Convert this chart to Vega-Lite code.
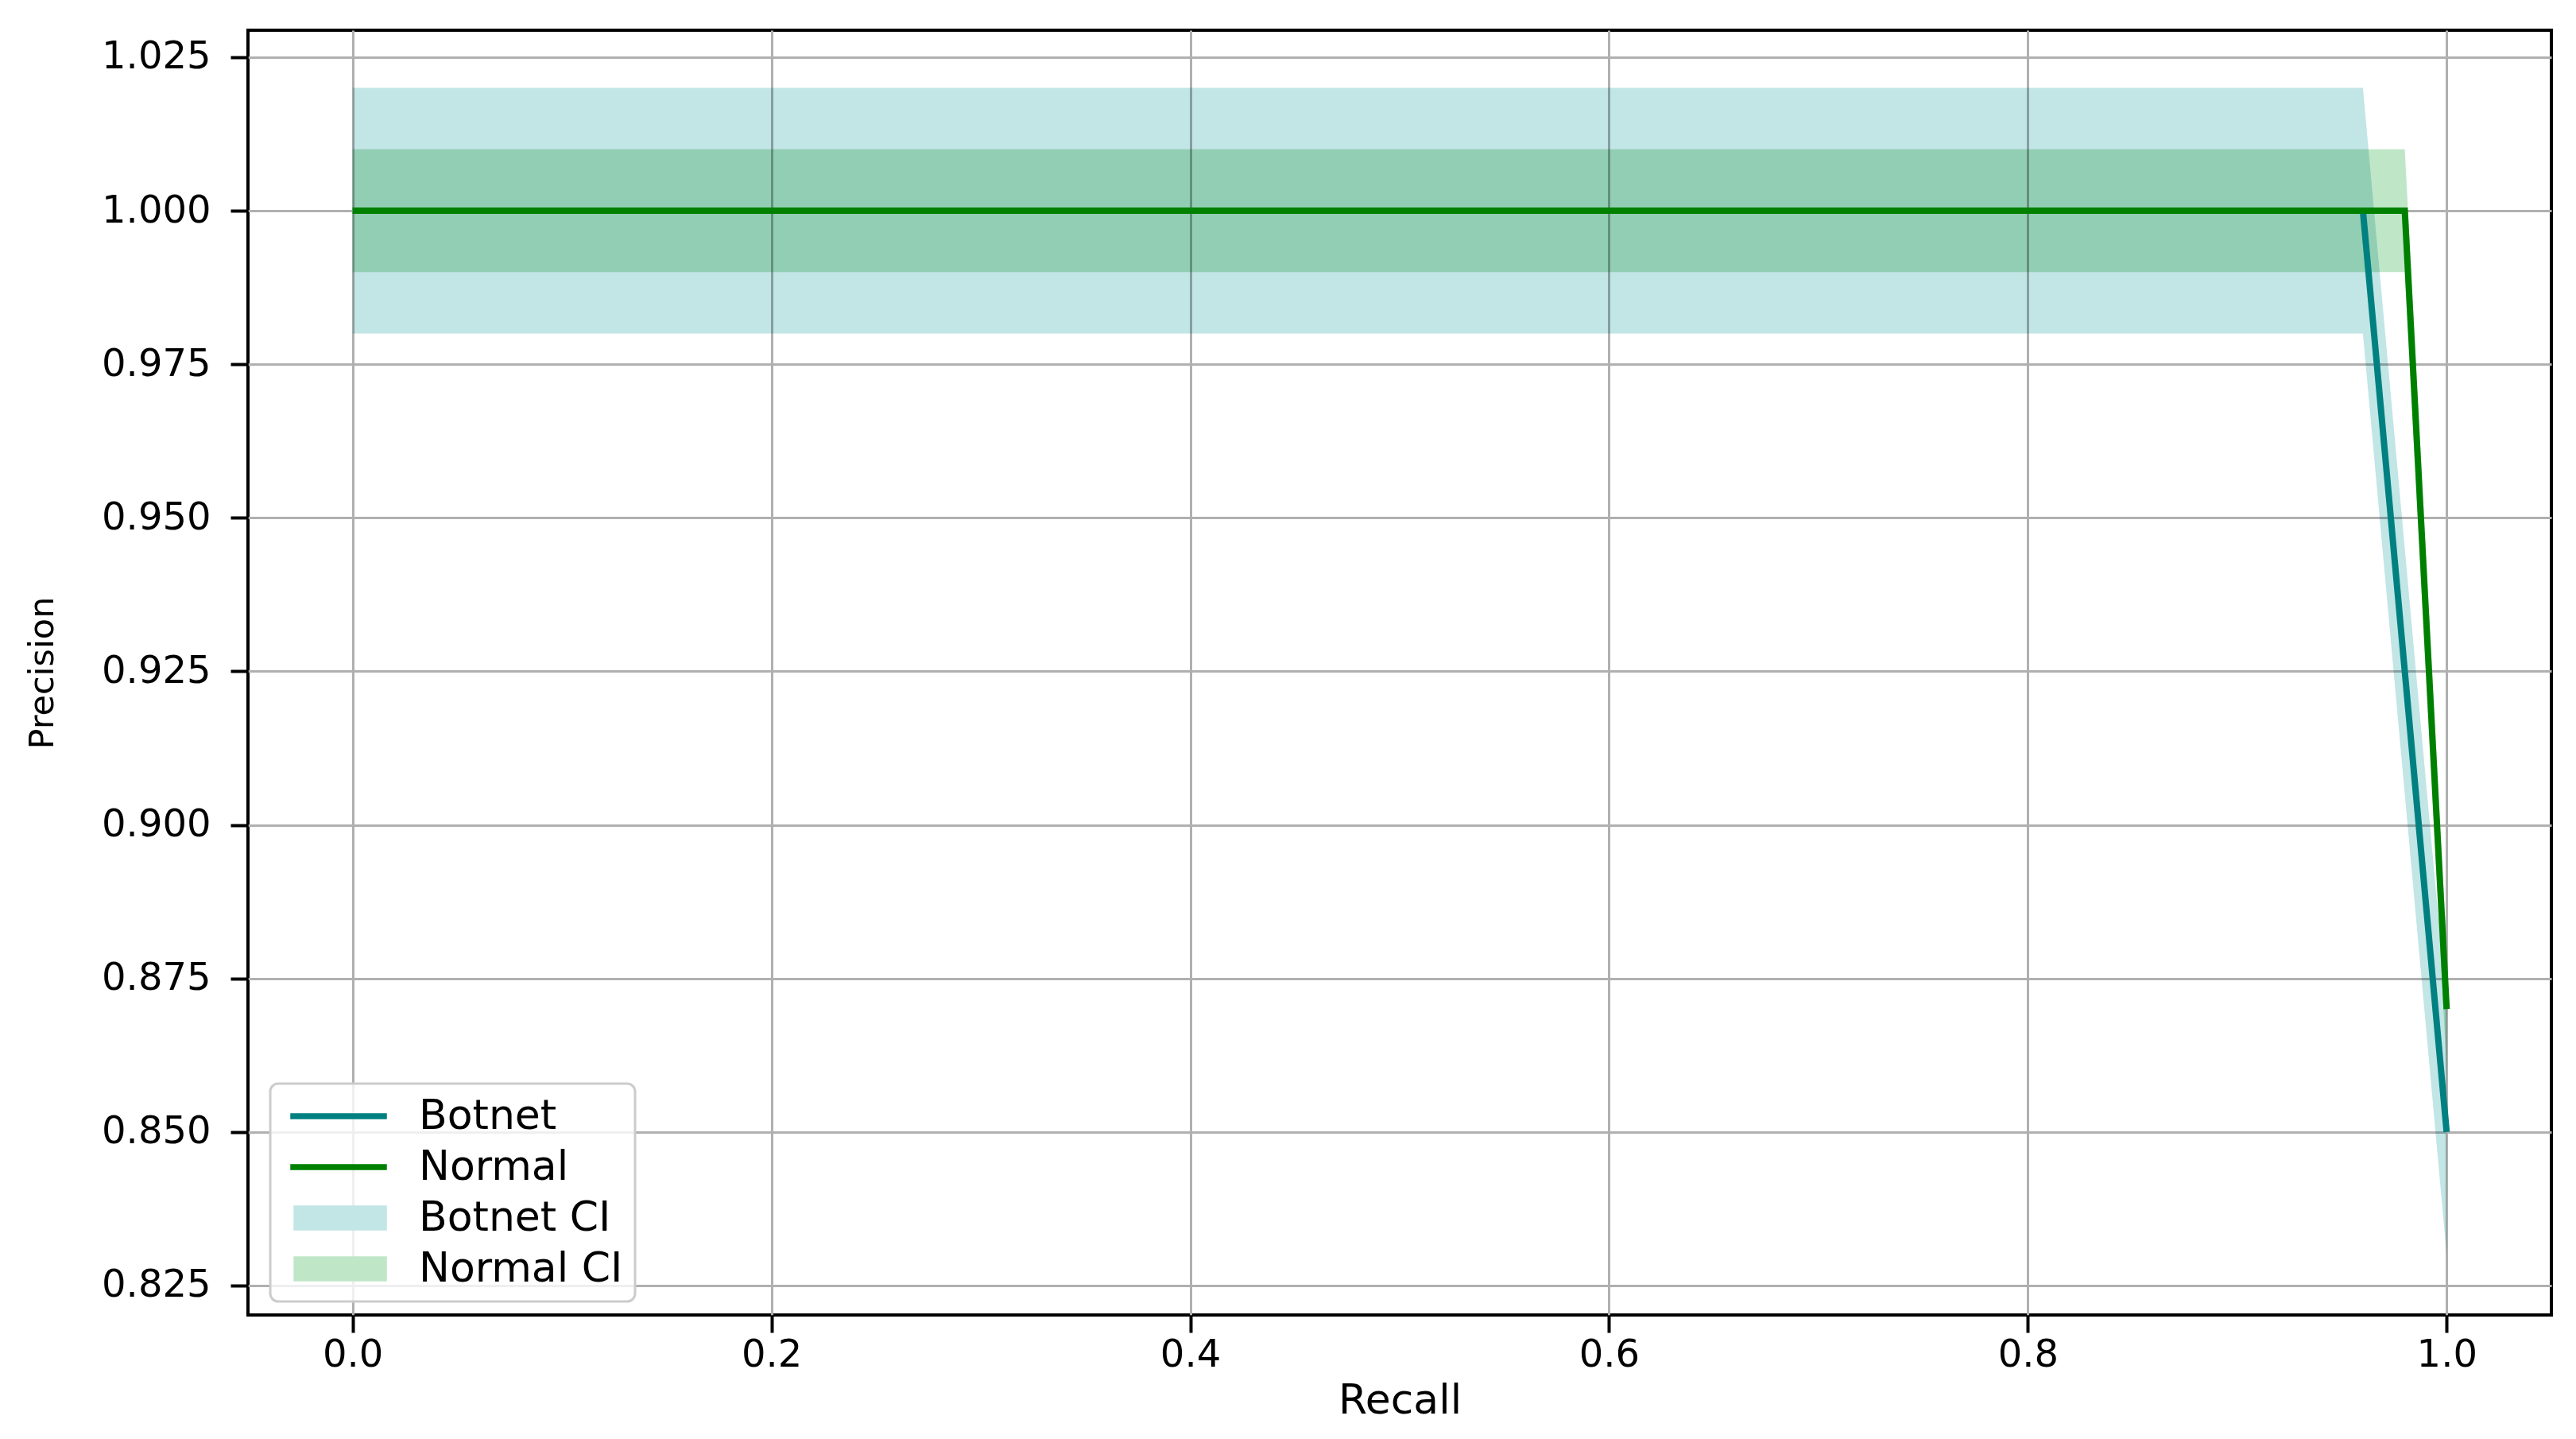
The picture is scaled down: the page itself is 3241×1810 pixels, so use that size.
{
  "$schema": "https://vega.github.io/schema/vega-lite/v6.json",
  "width": 2898,
  "height": 1616,
  "autosize": {"type": "none"},
  "padding": {"left": 312, "top": 38, "right": 31, "bottom": 156},
  "background": "white",
  "config": {
    "view": {"stroke": "#000000", "strokeWidth": 4},
    "axis": {
      "labelFont": "DejaVu Sans",
      "labelFontSize": 48,
      "labelColor": "#000000",
      "titleFont": "DejaVu Sans",
      "titleColor": "#000000",
      "titleFontWeight": "normal",
      "gridColor": "#b0b0b0",
      "gridWidth": 3,
      "gridOpacity": 1,
      "tickColor": "#000000",
      "tickWidth": 4,
      "tickSize": 22,
      "domain": false
    },
    "legend": {"strokeWidth": 3}
  },
  "datasets": {
    "lines": [
      {"series": "Botnet", "recall": 0.0, "precision": 1.0},
      {"series": "Botnet", "recall": 0.96, "precision": 1.0},
      {"series": "Botnet", "recall": 1.0, "precision": 0.85},
      {"series": "Normal", "recall": 0.0, "precision": 1.0},
      {"series": "Normal", "recall": 0.98, "precision": 1.0},
      {"series": "Normal", "recall": 1.0, "precision": 0.87}
    ],
    "bands": [
      {"series": "Botnet CI", "recall": 0.0, "lower": 0.98, "upper": 1.02},
      {"series": "Botnet CI", "recall": 0.96, "lower": 0.98, "upper": 1.02},
      {"series": "Botnet CI", "recall": 1.0, "lower": 0.83, "upper": 0.87},
      {"series": "Normal CI", "recall": 0.0, "lower": 0.99, "upper": 1.01},
      {"series": "Normal CI", "recall": 0.98, "lower": 0.99, "upper": 1.01},
      {"series": "Normal CI", "recall": 1.0, "lower": 0.86, "upper": 0.88}
    ]
  },
  "layer": [
    {
      "data": {"name": "bands"},
      "mark": {"type": "area", "blend": "multiply"},
      "encoding": {
        "x": {
          "field": "recall", "type": "quantitative",
          "scale": {"domain": [-0.05, 1.05], "nice": false, "zero": false},
          "axis": {"values": [0, 0.2, 0.4, 0.6, 0.8, 1.0], "format": ".1f", "title": "Recall", "titleFontSize": 52, "labelPadding": 4, "titlePadding": 8, "labelFlush": false}
        },
        "y": {
          "field": "lower", "type": "quantitative",
          "scale": {"domain": [0.8202, 1.0294], "nice": false, "zero": false},
          "axis": {"values": [0.825, 0.85, 0.875, 0.9, 0.925, 0.95, 0.975, 1.0, 1.025], "format": ".3f", "title": "Precision", "titleFontSize": 43, "labelPadding": 25, "titlePadding": 52, "labelFlush": false}
        },
        "y2": {"field": "upper"},
        "color": {
          "field": "series", "type": "nominal",
          "scale": {"domain": ["Botnet", "Normal", "Botnet CI", "Normal CI"], "range": ["#008080", "#008000", "#c2e5e5", "#c0e6c8"]},
          "legend": {
            "title": null,
            "orient": "none",
            "legendX": 28,
            "legendY": 1325,
            "labelFont": "DejaVu Sans",
            "labelFontSize": 52,
            "labelColor": "#000000",
            "labelLimit": 600,
            "labelOffset": 120,
            "padding": 15,
            "rowPadding": 12,
            "symbolSize": 900,
            "symbolOpacity": 1,
            "strokeColor": "#cccccc",
            "fillColor": "rgba(255,255,255,0.8)",
            "cornerRadius": 10
          }
        }
      }
    },
    {
      "data": {"name": "lines"},
      "mark": {"type": "line", "strokeWidth": 8},
      "encoding": {
        "x": {"field": "recall", "type": "quantitative"},
        "y": {"field": "precision", "type": "quantitative"},
        "color": {"field": "series", "type": "nominal"}
      }
    },
    {
      "data": {"name": "lines"},
      "transform": [{"filter": "datum.recall > 2"}],
      "mark": {"type": "point", "filled": true, "opacity": 1},
      "encoding": {
        "x": {"field": "recall", "type": "quantitative"},
        "y": {"field": "precision", "type": "quantitative"},
        "color": {"field": "series", "type": "nominal"},
        "shape": {
          "field": "series", "type": "nominal",
          "scale": {"domain": ["Botnet", "Normal", "Botnet CI", "Normal CI"], "range": ["M-1,-0.2H7V0.2H-1Z", "M-1,-0.2H7V0.2H-1Z", "M-0.73,-1H7V1H-0.73Z", "M-0.73,-1H7V1H-0.73Z"]}
        }
      }
    }
  ]
}
